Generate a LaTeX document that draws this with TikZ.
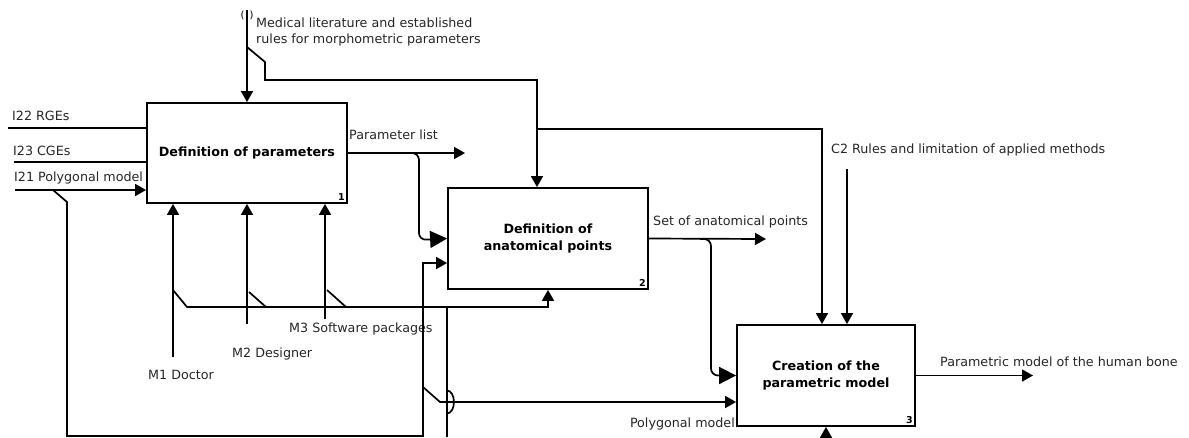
\documentclass[tikz,border=0pt]{standalone}
\usepackage{fontspec}
\setmainfont{DejaVu Sans}
\usetikzlibrary{arrows.meta}
\begin{document}
\begin{tikzpicture}[x=1pt,y=-1pt,
  box/.style={draw,line width=1.8pt,inner sep=0pt,align=center,
    font=\fontsize{12.7}{16.5}\selectfont\bfseries},
  lbl/.style={inner sep=0pt,text=black!85,align=left,
    font=\fontsize{12.7}{16.5}\selectfont},
  tag/.style={inner sep=0pt,font=\fontsize{9.5}{10}\selectfont\bfseries},
  wire/.style={line width=1.7pt},
  arr/.style={wire,-{Triangle[length=11pt,width=12pt]}},
  bigarr/.style={wire,-{Triangle[length=17pt,width=17pt]}},
]
\useasboundingbox (0,0) rectangle (1189,437);

% activity boxes
\node[box,minimum width=200pt,minimum height=100pt] (b1) at (247,153) {Definition of parameters};
\node[box,minimum width=200pt,minimum height=101pt] (b2) at (548,238.5) {Definition of\\anatomical points};
\node[box,minimum width=178pt,minimum height=101pt] (b3) at (826,375.5) {Creation of the\\parametric model};
\node[tag,anchor=south east] (n1) at ([shift={(-3,-3)}]b1.south east) {1};
\node[tag,anchor=south east] (n2) at ([shift={(-3,-3)}]b2.south east) {2};
\node[tag,anchor=south east] (n3) at ([shift={(-3,-3)}]b3.south east) {3};

% labels
\node[inner sep=0pt,font=\fontsize{10}{11}\selectfont] (tun) at (247,15) {(\,\,\,)};
\node[lbl,anchor=west] (lmed) at (256,32) {Medical literature and established\\rules for morphometric parameters};
\node[lbl,anchor=west] (li22) at (12,116) {I22 RGEs};
\node[lbl,anchor=west] (li23) at (13,151) {I23 CGEs};
\node[lbl,anchor=west] (li21) at (14,178) {I21 Polygonal model};
\node[lbl,anchor=west] (lpar) at (349,135) {Parameter list};
\node[lbl,anchor=west] (lset) at (653,222) {Set of anatomical points};
\node[lbl,anchor=west] (lc2) at (831,150) {C2 Rules and limitation of applied methods};
\node[lbl,anchor=west] (lm1) at (148,375) {M1 Doctor};
\node[lbl,anchor=west] (lm2) at (232,354) {M2 Designer};
\node[lbl,anchor=west] (lm3) at (289,329) {M3 Software packages};
\node[lbl,anchor=east] (lpoly) at (735,424) {Polygonal model};
\node[lbl,anchor=west] (lout) at (940,362) {Parametric model of the human bone};

% control: literature and rules
\coordinate (c1) at (247,10);
\draw[arr] (c1) -- (b1.north);
\coordinate (c1a) at (247,47);
\coordinate (c1b) at (537,80);
\coordinate (c1c) at (537,129);
\coordinate (c1d) at (822,129);
\draw[arr] (c1a) -- (265,62) -- (265,80) -- (c1b) -- (c1b |- b2.north);
\draw[arr] (c1c) -- (c1d) -- (c1d |- b3.north);

% control C2
\coordinate (c2) at (847,169);
\draw[arr] (c2) -- (c2 |- b3.north);

% inputs to box 1
\coordinate (i22) at (8,128);
\coordinate (i23) at (14,162);
\coordinate (i21) at (15,190);
\draw[wire] (i22) -- (i22 -| b1.west);
\draw[wire] (i23) -- (i23 -| b1.west);
\draw[arr] (i21) -- (i21 -| b1.west);

% polygonal model routed to boxes 2 and 3
\coordinate (pa) at (53,190);
\coordinate (pb) at (423,263);
\coordinate (pc) at (423,387);
\coordinate (pd) at (440,402);
\draw[arr] (pa) -- (67,202) -- (67,436) -- (423,436) -- (pb) -- (pb -| b2.west);
\draw[arr] (pc) -- (pd) -- (pd -| b3.west);

% mechanisms
\coordinate (m1) at (173,357);
\coordinate (m2) at (247,324);
\coordinate (m3) at (325,319);
\draw[arr] (m1) -- (m1 |- b1.south);
\draw[arr] (m2) -- (m2 |- b1.south);
\draw[arr] (m3) -- (m3 |- b1.south);
\coordinate (mh) at (548,307);
\draw[arr] (173,290) -- (187,307) -- (mh) -- (mh |- b2.south);
\draw[wire] (249,292) -- (266,307);
\draw[wire] (327,290) -- (346,307);
\coordinate (mv) at (447,307);
\draw[wire] (mv) -- (447,437);
% bridge where the mechanism line crosses the polygonal model line
\draw[wire] (447,413.5) arc[start angle=90,end angle=-90,x radius=7,y radius=11.5];
\coordinate (m3in) at (826,437);
\draw[arr] (m3in) -- (b3.south);

% outputs
\coordinate (o1) at (465,153);
\draw[arr] (b1.east) -- (o1);
\draw[bigarr,rounded corners=7pt] (411,153) -- (419,153) -- (419,240) -- (b2.west);
\coordinate (o2) at (766,239);
\draw[arr] (b2.east) -- (o2);
\draw[bigarr,rounded corners=7pt] (700,239) -- (711,239) -- (711,375.5) -- (b3.west);
\coordinate (o3) at (1033,375.5);
\draw[arr] (b3.east) -- (o3);
\end{tikzpicture}
\end{document}
